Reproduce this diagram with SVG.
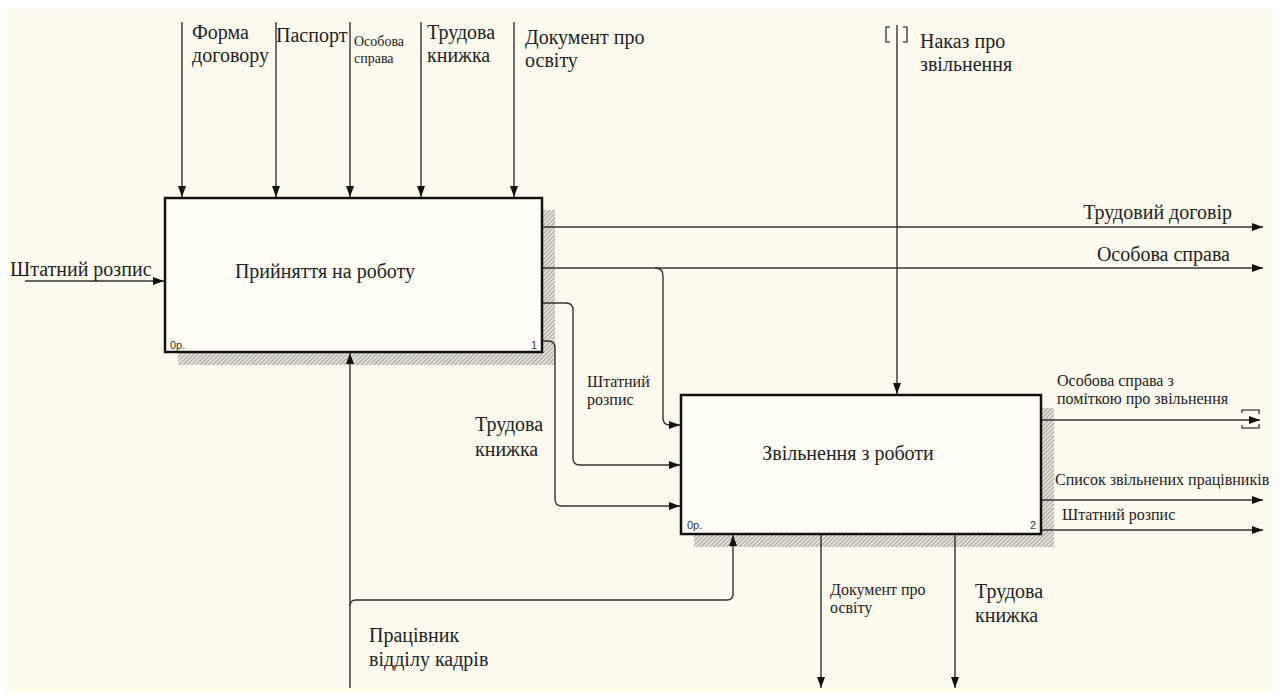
<svg xmlns="http://www.w3.org/2000/svg" width="1281" height="693" viewBox="0 0 1281 693">
  <defs>
    <style>
      .lbl { font-family: "Liberation Serif", "DejaVu Serif", serif; font-size: 20px; fill: #222; }
      .sm { font-family: "Liberation Serif", "DejaVu Serif", serif; font-size: 16px; fill: #222; }
      .xs { font-family: "Liberation Serif", "DejaVu Serif", serif; font-size: 14px; fill: #222; }
      .num { font-family: "Liberation Sans", "DejaVu Sans", sans-serif; font-size: 11px; fill: #333; }
      .box { fill: #fffdf6; stroke: #111; stroke-width: 2.5; }
      .arc { fill: none; stroke: #333; stroke-width: 1.4; }
      .tun { fill: none; stroke: #555; stroke-width: 1.6; }
    </style>
    <pattern id="hatch" patternUnits="userSpaceOnUse" width="3" height="3" patternTransform="rotate(45)">
      <rect width="3" height="3" fill="#e4e1d8"/>
      <line x1="0" y1="0" x2="0" y2="3" stroke="#8a8884" stroke-width="1.4"/>
    </pattern>
    <marker id="ah" viewBox="0 0 11 8" refX="11" refY="4" markerWidth="11" markerHeight="8" markerUnits="userSpaceOnUse" orient="auto">
      <path d="M0,0 L11,4 L0,8 Z" fill="#111"/>
    </marker>
  </defs>

  <!-- canvas -->
  <rect x="0" y="0" width="1281" height="693" fill="#ffffff"/>
  <rect x="6" y="9" width="1267" height="683" fill="#fffaee"/>

  <!-- activity 1 -->
  <g id="node-a1">
    <rect x="542" y="210" width="13" height="155" fill="url(#hatch)"/>
    <rect x="178" y="352" width="377" height="13" fill="url(#hatch)"/>
    <rect class="box" x="165" y="198" width="377" height="154"/>
    <text class="lbl" x="325" y="278" text-anchor="middle">Прийняття на роботу</text>
    <text class="num" x="170" y="349">0р.</text>
    <text class="num" x="537" y="349" text-anchor="end">1</text>
  </g>

  <!-- activity 2 -->
  <g id="node-a2">
    <rect x="1041" y="408" width="13" height="139" fill="url(#hatch)"/>
    <rect x="694" y="534" width="360" height="13" fill="url(#hatch)"/>
    <rect class="box" x="681" y="395" width="360" height="139"/>
    <text class="lbl" x="848" y="460" text-anchor="middle">Звільнення з роботи</text>
    <text class="num" x="687" y="529">0р.</text>
    <text class="num" x="1036" y="529" text-anchor="end">2</text>
  </g>

  <!-- arrows -->
  <g id="connectors">
    <!-- controls of activity 1 -->
    <path class="arc" d="M182,22 V197" marker-end="url(#ah)"/>
    <path class="arc" d="M276,22 V197" marker-end="url(#ah)"/>
    <path class="arc" d="M350,22 V197" marker-end="url(#ah)"/>
    <path class="arc" d="M421,22 V197" marker-end="url(#ah)"/>
    <path class="arc" d="M514,22 V197" marker-end="url(#ah)"/>
    <!-- input of activity 1 -->
    <path class="arc" d="M25,281 H164" marker-end="url(#ah)"/>
    <!-- outputs of activity 1 -->
    <path class="arc" d="M543,227 H1263" marker-end="url(#ah)"/>
    <path class="arc" d="M543,268 H1263" marker-end="url(#ah)"/>
    <path class="arc" d="M655,268 Q663,268 663,276 V418 Q663,425 670,425 H680" marker-end="url(#ah)"/>
    <path class="arc" d="M543,303 H566 Q573,303 573,310 V458 Q573,465 580,465 H680" marker-end="url(#ah)"/>
    <path class="arc" d="M543,341 H548 Q555,341 555,348 V499 Q555,506 562,506 H680" marker-end="url(#ah)"/>
    <!-- control of activity 2 (tunnelled) -->
    <path class="arc" d="M897,25 V394" marker-end="url(#ah)"/>
    <path class="tun" d="M890,27 H886 V42 H890"/>
    <path class="tun" d="M903,27 H907 V42 H903"/>
    <!-- mechanism -->
    <path class="arc" d="M350,688 V353" marker-end="url(#ah)"/>
    <path class="arc" d="M350,606 Q350,600 356,600 H727 Q733,600 733,594 V535" marker-end="url(#ah)"/>
    <!-- outputs of activity 2 -->
    <path class="arc" d="M1042,420 H1260" marker-end="url(#ah)"/>
    <path class="tun" d="M1242,413 V410 H1259 V414"/>
    <path class="tun" d="M1242,425 V428 H1259 V424"/>
    <path class="arc" d="M1042,500 H1263" marker-end="url(#ah)"/>
    <path class="arc" d="M1042,530 H1263" marker-end="url(#ah)"/>
    <path class="arc" d="M821,535 V688" marker-end="url(#ah)"/>
    <path class="arc" d="M955,535 V688" marker-end="url(#ah)"/>
  </g>

  <!-- arrow labels -->
  <g id="labels">
    <text class="lbl" x="192" y="39">Форма</text>
    <text class="lbl" x="192" y="62">договору</text>
    <text class="lbl" x="276" y="42">Паспорт</text>
    <text class="xs" x="354" y="46">Особова</text>
    <text class="xs" x="354" y="63">справа</text>
    <text class="lbl" x="427" y="39">Трудова</text>
    <text class="lbl" x="427" y="62">книжка</text>
    <text class="lbl" x="525" y="44">Документ про</text>
    <text class="lbl" x="525" y="67">освіту</text>
    <text class="lbl" x="920" y="48">Наказ про</text>
    <text class="lbl" x="920" y="71">звільнення</text>
    <text class="lbl" x="10" y="276">Штатний розпис</text>
    <text class="lbl" x="1232" y="219" text-anchor="end">Трудовий договір</text>
    <text class="lbl" x="1230" y="261" text-anchor="end">Особова справа</text>
    <text class="sm" x="587" y="387">Штатний</text>
    <text class="sm" x="587" y="405">розпис</text>
    <text class="lbl" x="475" y="431">Трудова</text>
    <text class="lbl" x="475" y="456">книжка</text>
    <text class="sm" x="1057" y="386">Особова справа з</text>
    <text class="sm" x="1057" y="404">поміткою про звільнення</text>
    <text class="sm" x="1055" y="485">Список звільнених працівників</text>
    <text class="sm" x="1062" y="520">Штатний розпис</text>
    <text class="sm" x="830" y="595">Документ про</text>
    <text class="sm" x="830" y="613">освіту</text>
    <text class="lbl" x="975" y="598">Трудова</text>
    <text class="lbl" x="975" y="622">книжка</text>
    <text class="lbl" x="369" y="642">Працівник</text>
    <text class="lbl" x="369" y="666">відділу кадрів</text>
  </g>
</svg>
